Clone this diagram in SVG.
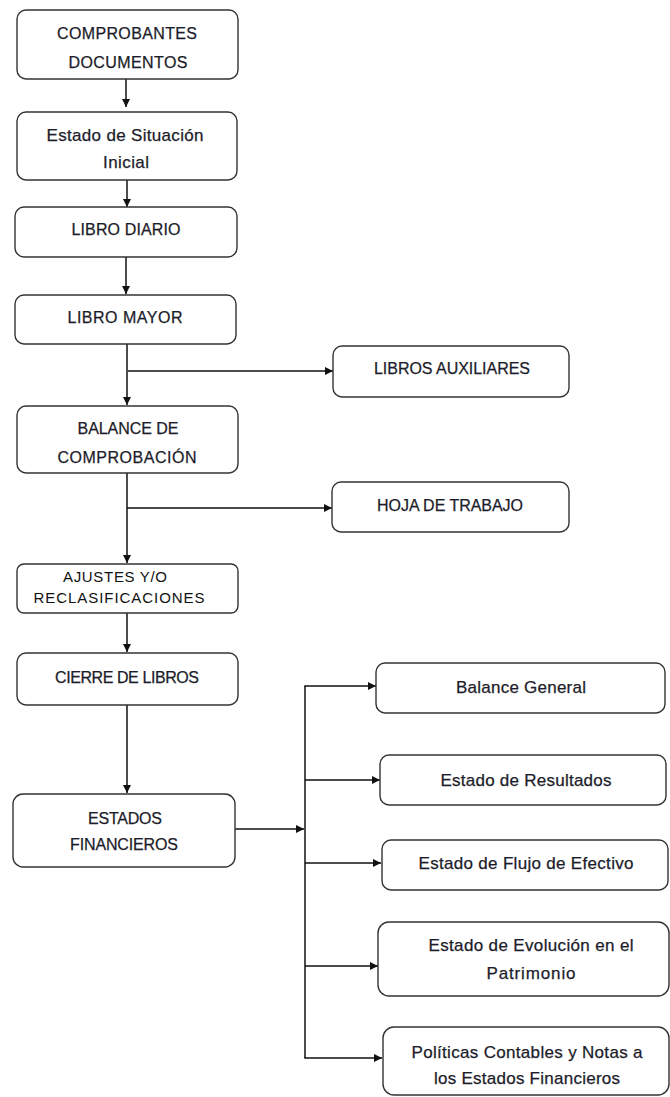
<svg xmlns="http://www.w3.org/2000/svg" width="670" height="1097" viewBox="0 0 670 1097">
<defs>
<marker id="ah" viewBox="0 0 10 10" refX="10" refY="5" markerWidth="9" markerHeight="8" markerUnits="userSpaceOnUse" orient="auto">
<path d="M0,0 L10,5 L0,10 z" fill="#111"/>
</marker>
<style>
.box{fill:#fff;stroke:#333;stroke-width:1.4}
.t{font-family:"Liberation Sans",Arial,sans-serif;font-size:16px;fill:#1c1c2a;stroke:#1c1c2a;stroke-width:0.25;text-anchor:middle;dominant-baseline:central}
.l{font-size:17px}
.a{font-family:"Liberation Sans",Arial,sans-serif;font-size:15px;fill:#111;text-anchor:middle;dominant-baseline:central}
.c{fill:none;stroke:#111;stroke-width:1.5}
.ca{fill:none;stroke:#111;stroke-width:1.5;marker-end:url(#ah)}
</style>
</defs>
<rect width="670" height="1097" fill="#fff"/>
<g id="connectors">
<line class="ca" x1="126" y1="79" x2="126" y2="107"/>
<line class="ca" x1="127" y1="180" x2="127" y2="207"/>
<line class="ca" x1="126" y1="257" x2="126" y2="294"/>
<line class="ca" x1="127" y1="344" x2="127" y2="405"/>
<line class="ca" x1="128" y1="371" x2="333" y2="371"/>
<line class="ca" x1="127" y1="473" x2="127" y2="563"/>
<line class="ca" x1="127" y1="508" x2="332" y2="508"/>
<line class="ca" x1="127" y1="613" x2="127" y2="652"/>
<line class="ca" x1="127" y1="705" x2="127" y2="793"/>
<line class="ca" x1="235" y1="829" x2="304" y2="829"/>
<line class="c" x1="305" y1="686" x2="305" y2="1058"/>
<line class="ca" x1="304.3" y1="686" x2="376" y2="686"/>
<line class="ca" x1="305" y1="780" x2="380" y2="780"/>
<line class="ca" x1="305" y1="863" x2="381" y2="863"/>
<line class="ca" x1="305" y1="966" x2="378" y2="966"/>
<line class="ca" x1="304.3" y1="1058" x2="382" y2="1058"/>
</g>
<g id="n1"><rect class="box" x="17" y="10" width="221" height="69" rx="9"/>
<text class="t" x="127" y="33" textLength="140">COMPROBANTES</text>
<text class="t" x="128" y="62" textLength="119">DOCUMENTOS</text></g>
<g id="n2"><rect class="box" x="17" y="112" width="220" height="68" rx="9"/>
<text class="t l" x="125" y="135" textLength="157">Estado de Situación</text>
<text class="t l" x="126" y="162" textLength="46">Inicial</text></g>
<g id="n3"><rect class="box" x="15" y="207" width="222" height="50" rx="9"/>
<text class="t" x="126" y="229" textLength="109">LIBRO DIARIO</text></g>
<g id="n4"><rect class="box" x="15" y="295" width="221" height="49" rx="9"/>
<text class="t" x="125" y="317" textLength="115">LIBRO MAYOR</text></g>
<g id="n5"><rect class="box" x="333" y="346" width="236" height="51" rx="9"/>
<text class="t" x="452" y="368" textLength="156">LIBROS AUXILIARES</text></g>
<g id="n6"><rect class="box" x="17" y="406" width="221" height="67" rx="9"/>
<text class="t" x="128" y="428" textLength="101">BALANCE DE</text>
<text class="t" x="127" y="457" textLength="139">COMPROBACIÓN</text></g>
<g id="n7"><rect class="box" x="332" y="482" width="237" height="50" rx="9"/>
<text class="t" x="450" y="505" textLength="146">HOJA DE TRABAJO</text></g>
<g id="n8"><rect class="box" x="17" y="564" width="221" height="49" rx="7"/>
<text class="a" x="115" y="576" textLength="104">AJUSTES Y/O</text>
<text class="a" x="119" y="597" textLength="171">RECLASIFICACIONES</text></g>
<g id="n9"><rect class="box" x="17" y="653" width="221" height="52" rx="9"/>
<text class="t" x="127" y="677" textLength="144">CIERRE DE LIBROS</text></g>
<g id="n10"><rect class="box" x="13" y="794" width="222" height="73" rx="10"/>
<text class="t" x="125" y="818" textLength="74">ESTADOS</text>
<text class="t" x="124" y="844" textLength="108">FINANCIEROS</text></g>
<g id="n11"><rect class="box" x="376" y="663" width="289" height="50" rx="9"/>
<text class="t l" x="521" y="687" textLength="130">Balance General</text></g>
<g id="n12"><rect class="box" x="380" y="755" width="286" height="50" rx="9"/>
<text class="t l" x="526" y="780" textLength="171">Estado de Resultados</text></g>
<g id="n13"><rect class="box" x="382" y="840" width="286" height="50" rx="9"/>
<text class="t l" x="526" y="863" textLength="215">Estado de Flujo de Efectivo</text></g>
<g id="n14"><rect class="box" x="378" y="922" width="291" height="74" rx="11"/>
<text class="t l" x="531" y="945" textLength="205">Estado de Evolución en el</text>
<text class="t l" x="531" y="973" textLength="89">Patrimonio</text></g>
<g id="n15"><rect class="box" x="383" y="1027" width="286" height="68" rx="11"/>
<text class="t l" x="527" y="1052" textLength="231">Políticas Contables y Notas a</text>
<text class="t l" x="527" y="1078" textLength="186">los Estados Financieros</text></g>
</svg>
